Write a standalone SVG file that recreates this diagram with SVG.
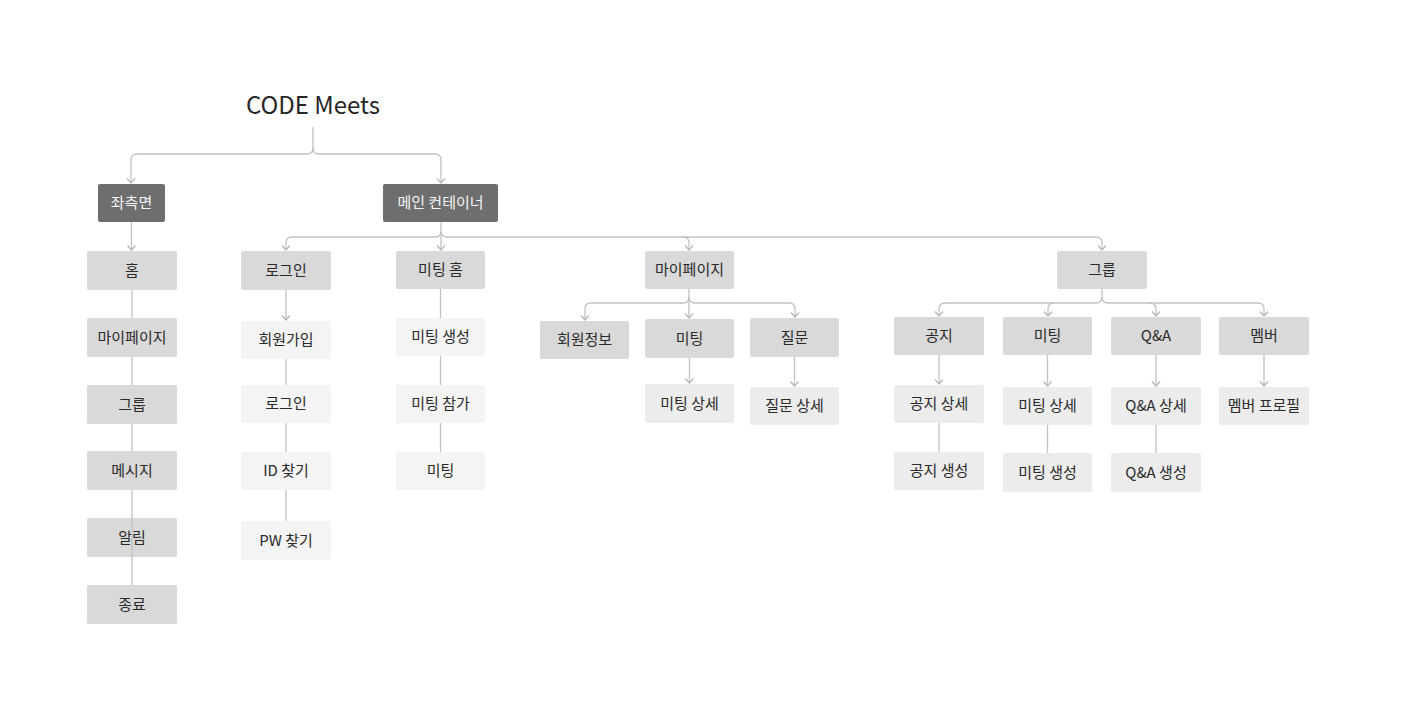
<svg xmlns="http://www.w3.org/2000/svg" width="1405" height="720" viewBox="0 0 1405 720">
<style>
  text { font-family: "Noto Sans CJK KR", "Noto Sans", sans-serif; font-size: 15px; fill: #2a2a2a; text-anchor: middle; }
  .title { font-size: 24px; fill: #262626; }
  .dark rect { fill: #6e6e6e; }
  .dark text { fill: #f5f5f5; }
  .mid rect { fill: #d9d9d9; }
  .light rect { fill: #f4f4f4; }
  .light2 rect { fill: #ececec; }
  .conn path { fill: none; stroke: #c2c2c2; stroke-width: 1.3; }
  .arr { marker-end: url(#ah); }
</style>
<defs>
  <marker id="ah" markerWidth="10" markerHeight="10" refX="6" refY="5" orient="auto" markerUnits="userSpaceOnUse">
    <path d="M1.5,1 L6,5 L1.5,9" fill="none" stroke="#b5b5b5" stroke-width="1.2"/>
  </marker>
</defs>
<rect width="1405" height="720" fill="#ffffff"/>

<g id="title"><text class="title" x="313" y="114">CODE Meets</text></g>

<g id="nodes">
  <g id="n-left" class="dark"><rect x="98" y="184" width="67" height="38" rx="2"/><text x="131.5" y="208">좌측면</text></g>
  <g id="n-main" class="dark"><rect x="383" y="184" width="115" height="38" rx="2"/><text x="440.5" y="208">메인 컨테이너</text></g>

  <g id="n-home" class="mid"><rect x="87" y="251" width="90" height="39" rx="2"/><text x="132" y="276">홈</text></g>
  <g id="n-mypage1" class="mid"><rect x="87" y="318" width="90" height="39" rx="2"/><text x="132" y="343">마이페이지</text></g>
  <g id="n-group1" class="mid"><rect x="87" y="385" width="90" height="39" rx="2"/><text x="132" y="410">그룹</text></g>
  <g id="n-msg" class="mid"><rect x="87" y="451" width="90" height="39" rx="2"/><text x="132" y="476">메시지</text></g>
  <g id="n-alarm" class="mid"><rect x="87" y="518" width="90" height="39" rx="2"/><text x="132" y="543">알림</text></g>
  <g id="n-exit" class="mid"><rect x="87" y="585" width="90" height="39" rx="2"/><text x="132" y="610">종료</text></g>

  <g id="n-login" class="mid"><rect x="241" y="251" width="90" height="39" rx="2"/><text x="286" y="276">로그인</text></g>
  <g id="n-signup" class="light"><rect x="241" y="321" width="90" height="38" rx="2"/><text x="286" y="345">회원가입</text></g>
  <g id="n-login2" class="light"><rect x="241" y="385" width="90" height="38" rx="2"/><text x="286" y="409">로그인</text></g>
  <g id="n-findid" class="light"><rect x="241" y="452" width="90" height="38" rx="2"/><text x="286" y="476">ID 찾기</text></g>
  <g id="n-findpw" class="light"><rect x="241" y="521" width="90" height="39" rx="2"/><text x="286" y="546">PW 찾기</text></g>

  <g id="n-meethome" class="mid"><rect x="396" y="251" width="89" height="38" rx="2"/><text x="440.5" y="275">미팅 홈</text></g>
  <g id="n-meetcreate" class="light"><rect x="396" y="318" width="89" height="38" rx="2"/><text x="440.5" y="342">미팅 생성</text></g>
  <g id="n-meetjoin" class="light"><rect x="396" y="385" width="89" height="38" rx="2"/><text x="440.5" y="409">미팅 참가</text></g>
  <g id="n-meet" class="light"><rect x="396" y="452" width="89" height="38" rx="2"/><text x="440.5" y="476">미팅</text></g>

  <g id="n-mypage" class="mid"><rect x="645" y="251" width="89" height="38" rx="2"/><text x="689.5" y="275">마이페이지</text></g>
  <g id="n-userinfo" class="mid"><rect x="540" y="321" width="89" height="38" rx="2"/><text x="584.5" y="345">회원정보</text></g>
  <g id="n-mymeet" class="mid"><rect x="645" y="319" width="89" height="39" rx="2"/><text x="689.5" y="344">미팅</text></g>
  <g id="n-question" class="mid"><rect x="750" y="318" width="89" height="39" rx="2"/><text x="794.5" y="343">질문</text></g>
  <g id="n-mymeetdetail" class="light2"><rect x="645" y="384" width="89" height="39" rx="2"/><text x="689.5" y="409">미팅 상세</text></g>
  <g id="n-questiondetail" class="light2"><rect x="750" y="387" width="89" height="38" rx="2"/><text x="794.5" y="411">질문 상세</text></g>

  <g id="n-group" class="mid"><rect x="1057" y="251" width="90" height="38" rx="2"/><text x="1102" y="275">그룹</text></g>
  <g id="n-notice" class="mid"><rect x="894" y="317" width="90" height="38" rx="2"/><text x="939" y="341">공지</text></g>
  <g id="n-gmeet" class="mid"><rect x="1003" y="317" width="89" height="38" rx="2"/><text x="1047.5" y="341">미팅</text></g>
  <g id="n-qna" class="mid"><rect x="1111" y="317" width="90" height="38" rx="2"/><text x="1156" y="341">Q&amp;A</text></g>
  <g id="n-member" class="mid"><rect x="1219" y="317" width="90" height="38" rx="2"/><text x="1264" y="341">멤버</text></g>
  <g id="n-noticedetail" class="light2"><rect x="894" y="385" width="90" height="38" rx="2"/><text x="939" y="409">공지 상세</text></g>
  <g id="n-noticecreate" class="light2"><rect x="894" y="452" width="90" height="38" rx="2"/><text x="939" y="476">공지 생성</text></g>
  <g id="n-gmeetdetail" class="light2"><rect x="1003" y="387" width="89" height="38" rx="2"/><text x="1047.5" y="411">미팅 상세</text></g>
  <g id="n-gmeetcreate" class="light2"><rect x="1003" y="453" width="89" height="39" rx="2"/><text x="1047.5" y="478">미팅 생성</text></g>
  <g id="n-qnadetail" class="light2"><rect x="1111" y="387" width="90" height="38" rx="2"/><text x="1156" y="411">Q&amp;A 상세</text></g>
  <g id="n-qnacreate" class="light2"><rect x="1111" y="453" width="90" height="39" rx="2"/><text x="1156" y="478">Q&amp;A 생성</text></g>
  <g id="n-memberprofile" class="light2"><rect x="1219" y="387" width="90" height="38" rx="2"/><text x="1264" y="411">멤버 프로필</text></g>
</g>

<g id="connectors" class="conn">
  <path class="arr" d="M313,127 V148 Q313,154 307,154 H137 Q131,154 131,160 V183"/>
  <path class="arr" d="M313,148 Q313,154 319,154 H435 Q441,154 441,160 V183"/>

  <path class="arr" d="M131.5,222 V250"/>
  <path d="M132,290 V318"/>
  <path d="M132,357 V385"/>
  <path d="M132,424 V451"/>
  <path d="M132,490 V585"/>

  <path class="arr" d="M441,222 V231 Q441,237 435,237 H292 Q286,237 286,243 V250"/>
  <path class="arr" d="M441,231 Q441,237 447,237 H1096 Q1102,237 1102,243 V250"/>
  <path class="arr" d="M441,231 V250"/>
  <path class="arr" d="M683,237 Q689,237 689,243 V250"/>

  <path class="arr" d="M286,290 V320"/>
  <path d="M286,359 V385"/>
  <path d="M286,423 V452"/>
  <path d="M286,490 V521"/>

  <path d="M440.5,289 V318"/>
  <path d="M440.5,356 V385"/>
  <path d="M440.5,423 V452"/>

  <path class="arr" d="M689,289 V297 Q689,303 683,303 H591 Q585,303 585,309 V320"/>
  <path class="arr" d="M689,297 Q689,303 695,303 H789 Q795,303 795,309 V317"/>
  <path class="arr" d="M689,297 V318"/>
  <path class="arr" d="M689.5,358 V383"/>
  <path class="arr" d="M794.5,357 V386"/>

  <path class="arr" d="M1102,289 V297 Q1102,303 1096,303 H945 Q939,303 939,309 V316"/>
  <path class="arr" d="M1102,297 Q1102,303 1108,303 H1258 Q1264,303 1264,309 V316"/>
  <path class="arr" d="M1054,303 Q1048,303 1048,309 V316"/>
  <path class="arr" d="M1150,303 Q1156,303 1156,309 V316"/>

  <path class="arr" d="M939,355 V384"/>
  <path d="M939,423 V452"/>
  <path class="arr" d="M1047.5,355 V386"/>
  <path d="M1047.5,425 V453"/>
  <path class="arr" d="M1156,355 V386"/>
  <path d="M1156,425 V453"/>
  <path class="arr" d="M1264,355 V386"/>
</g>
</svg>
